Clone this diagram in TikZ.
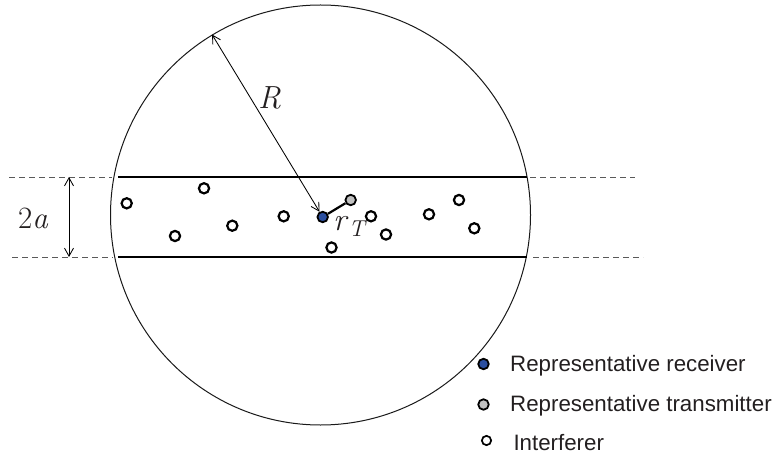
\documentclass[tikz,border=0pt]{standalone}
\usepackage{fontspec}
\newfontfamily\legendfont{Liberation Sans}
\usetikzlibrary{arrows.meta}
\definecolor{rxblue}{RGB}{43,79,160}
\definecolor{txgray}{RGB}{192,192,192}
\definecolor{txtgray}{RGB}{35,31,32}
\begin{document}
\begin{tikzpicture}[x=1pt,y=-1pt,
  dot/.style={circle, draw=black, line width=2.2pt, minimum size=10.2pt, inner sep=0pt},
  interf/.style={dot, fill=white},
  rxdot/.style={dot, fill=rxblue, line width=1.8pt, minimum size=10.5pt},
  txdot/.style={dot, fill=txgray, line width=1.8pt, minimum size=10.5pt},
  band/.style={line width=2.6pt, draw=black},
  guide/.style={dash pattern=on 6pt off 4pt, draw=black!65, line width=0.9pt},
  dimarrow/.style={line width=0.85pt, {Straight Barb[length=8pt,width=9pt]}-{Straight Barb[length=8pt,width=9pt]}},
  mathlbl/.style={anchor=base west, inner sep=0pt, text=txtgray},
  legtext/.style={anchor=base west, inner sep=0pt, text=txtgray, font=\legendfont\fontsize{22.3}{26}\selectfont}
]
\useasboundingbox (0,0) rectangle (775,454);

% big disk
\node[circle, draw=black!90, line width=1pt, minimum size=420pt, inner sep=0pt] (disk) at (320.5,215) {};

% dashed guide lines
\draw[guide] (9,177) -- (112,177);
\draw[guide] (530,177) -- (635,177);
\draw[guide] (12,257) -- (113,257);
\draw[guide] (533,257) -- (643,257);

% band lines
\draw[band] (118,177) -- (527,177);
\draw[band] (118,257) -- (527,257);

% 2a dimension
\coordinate (atop) at (69,177);
\coordinate (abot) at (69,257);
\draw[dimarrow] (atop) -- (abot);
\node[mathlbl, font=\fontsize{31}{35}\selectfont] (twoa) at (18,228.5) {2\textit{a}};

% interferers
\foreach \n/\px/\py in {i1/126.7/203.3, i2/204/188.3, i3/175/236, i4/232.3/225.7,
  i5/283.7/216.3, i6/331.5/247.5, i7/371/216.3, i8/386/234.5, i9/429/214.3,
  i10/459/200, i11/474.3/228.3}
  \node[interf] (\n) at (\px,\py) {};

% receiver and transmitter
\node[rxdot] (rx) at (322.7,217) {};
\node[txdot] (tx) at (350.7,200) {};
\draw[line width=2.2pt] (rx) -- (tx);
\node[mathlbl, font=\fontsize{32}{36}\selectfont] (rtlbl) at (333,230) {\textit{r}\raisebox{-6pt}{\fontsize{23}{26}\selectfont\textit{T}}};

% radius R
\draw[dimarrow] (disk.121.5) -- (rx);
\node[mathlbl, font=\fontsize{32}{36}\selectfont] (rlbl) at (258,109) {\textit{R}};

% legend
\node[rxdot] (lrx) at (483.5,364) {};
\node[txdot] (ltx) at (483.5,404.5) {};
\node[interf, line width=1.7pt, minimum size=9.3pt] (lint) at (486.5,440.5) {};
\node[legtext] (trx) at (510,371.5) {Representative receiver};
\node[legtext] (ttx) at (510,411) {Representative transmitter};
\node[legtext] (tint) at (513.3,450) {Interferer};
\end{tikzpicture}
\end{document}
